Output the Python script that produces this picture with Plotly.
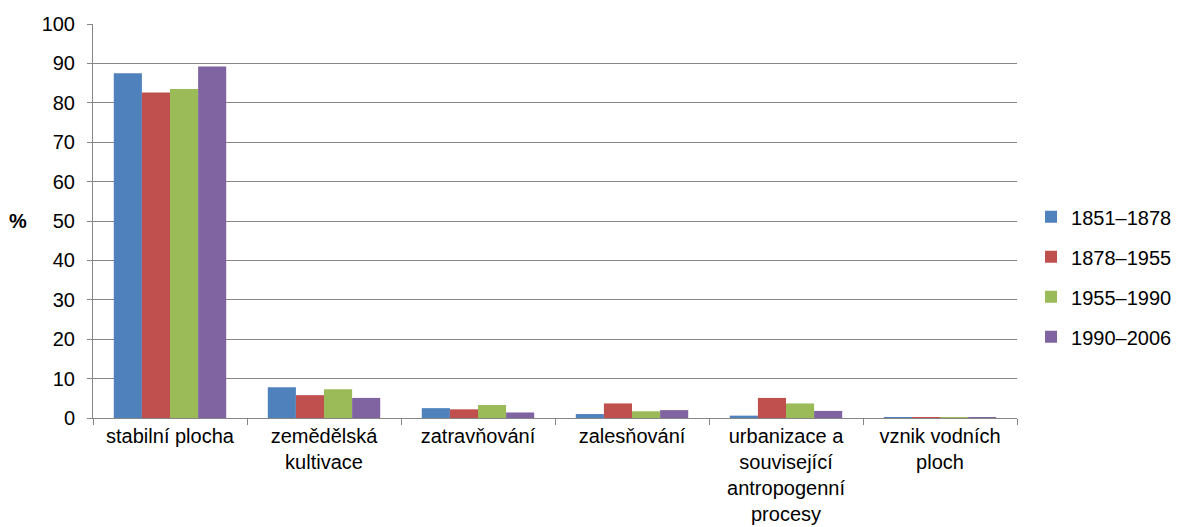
import plotly.graph_objects as go

categories = ["stabilní plocha", "zemědělská<br>kultivace", "zatravňování", "zalesňování",
              "urbanizace a<br>související<br>antropogenní<br>procesy", "vznik vodních<br>ploch"]
series_names = ["1851–1878", "1878–1955", "1955–1990", "1990–2006"]
v_1851_1878 = [87.5, 7.8, 2.5, 1.0, 0.6, 0.05]
v_1878_1955 = [82.6, 5.8, 2.2, 3.7, 5.1, 0.2]
v_1955_1990 = [83.5, 7.3, 3.3, 1.7, 3.7, 0.1]
v_1990_2006 = [89.2, 5.1, 1.4, 2.0, 1.8, 0.05]
y_ticks = [0, 10, 20, 30, 40, 50, 60, 70, 80, 90, 100]

colors = ["#4F81BD", "#C0504D", "#9BBB59", "#8064A2"]
values = [v_1851_1878, v_1878_1955, v_1955_1990, v_1990_2006]

fig = go.Figure()
for i, (name, vals) in enumerate(zip(series_names, values)):
    fig.add_trace(go.Bar(x=categories, y=vals, name=name, marker_color=colors[i],
                         marker_line_width=0, legendgroup=name))

grid = "#868686"
fig.update_layout(
    width=1180, height=527,
    margin=dict(l=85, r=171, t=16, b=117),
    paper_bgcolor="white", plot_bgcolor="white",
    font=dict(family="Liberation Sans, Arial, sans-serif", size=21, color="black"),
    barmode="group", bargap=0.27, bargroupgap=0,
    showlegend=True,
    legend=dict(xref="container", yref="container", x=0.9907, y=0.49,
                xanchor="right", yanchor="middle",
                tracegroupgap=11, font=dict(size=20)),
    xaxis=dict(showline=True, linecolor=grid, linewidth=1, ticks="outside",
               tickson="boundaries", ticklen=6, tickcolor=grid, showgrid=False,
               tickfont=dict(size=20), ticklabelstandoff=0, automargin=False),
    yaxis=dict(range=[0, 100], tickvals=y_ticks, showline=True, linecolor=grid, linewidth=1,
               ticks="outside", ticklen=5, tickcolor=grid, showgrid=True, gridcolor=grid,
               gridwidth=1, zeroline=False, tickfont=dict(size=20), ticklabelstandoff=8,
               automargin=False),
)
fig.add_annotation(text="<b>%</b>", xref="paper", yref="paper", x=-0.081, y=0.5,
                   showarrow=False, xanchor="center", yanchor="middle", font=dict(size=20))
fig.write_html("out.html")
